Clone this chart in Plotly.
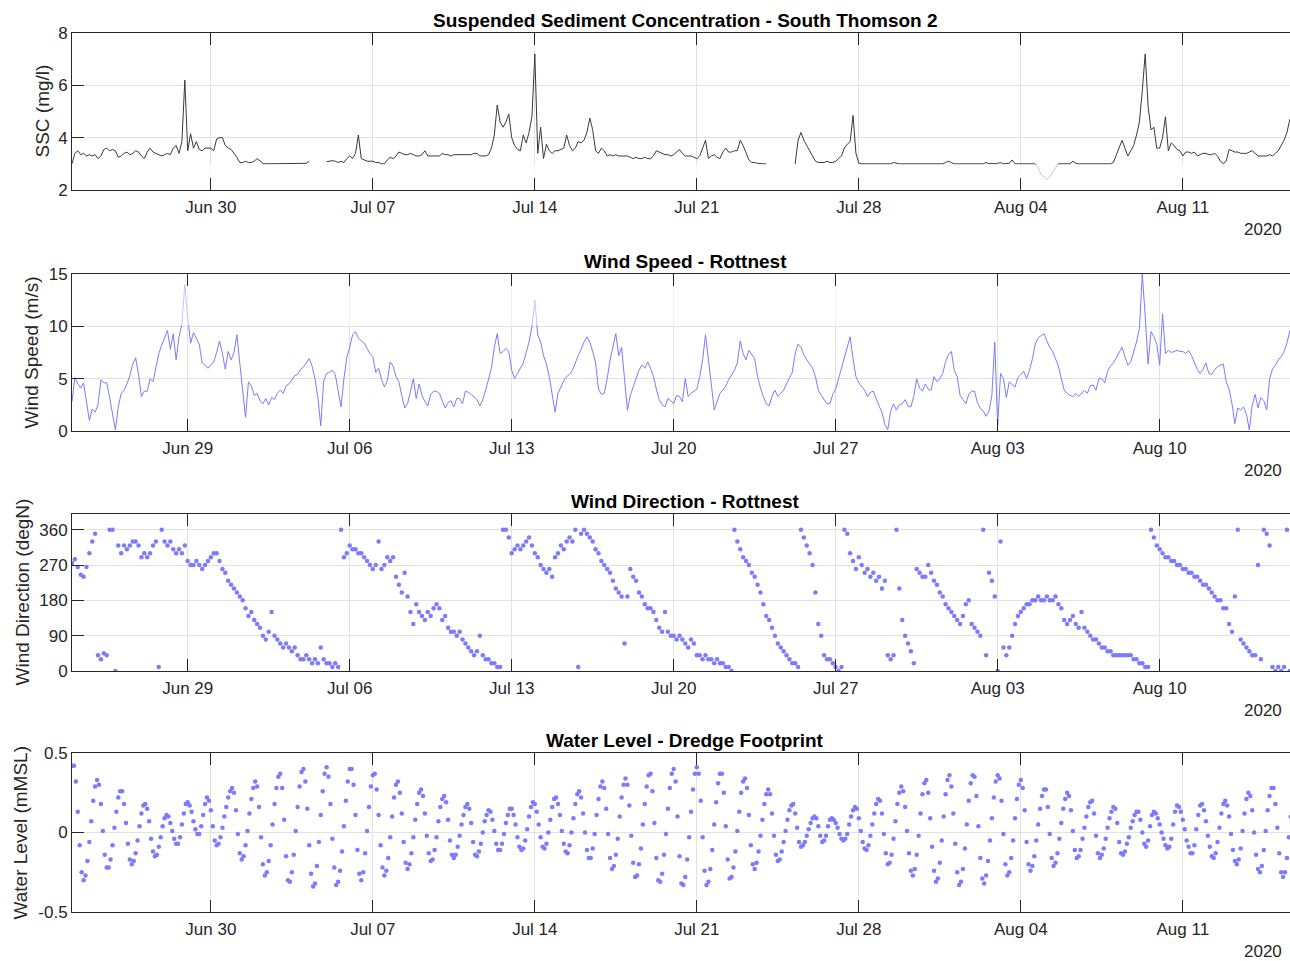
import pandas as pd
import plotly.graph_objects as go

W, H = 1290, 961
START = "2020-06-24 00:00"
X_END = "2020-08-15 15:10"

# ---------------- tick labels ----------------
tide_tick_dates = ["2020-06-30", "2020-07-07", "2020-07-14", "2020-07-21",
                   "2020-07-28", "2020-08-04", "2020-08-11"]
wind_tick_dates = ["2020-06-29", "2020-07-06", "2020-07-13", "2020-07-20",
                   "2020-07-27", "2020-08-03", "2020-08-10"]
ssc_ticks = [2, 4, 6, 8]
ws_ticks = [0, 5, 10, 15]
wd_ticks = [0, 90, 180, 270, 360]
wl_ticks = [-0.5, 0, 0.5]
wl_ticktext = ["-0.5", "0", "0.5"]
year_label = "2020"

titles = ["Suspended Sediment Concentration - South Thomson 2",
          "Wind Speed - Rottnest", "Wind Direction - Rottnest",
          "Water Level - Dredge Footprint"]
ylabels = ["SSC (mg/l)", "Wind Speed (m/s)", "Wind Direction (degN)",
           "Water Level (mMSL)"]

# ---------------- data: 3-hourly from Jun 24 00:00 (one line per day) ----------------
ssc_mgl = [
    3.0, 3.4, 3.5, 3.35, 3.4, 3.3, 3.35, 3.3,
    3.35, 3.2, 3.3, 3.55, 3.6, 3.5, 3.55, 3.5,
    3.25, 3.3, 3.4, 3.45, 3.35, 3.4, 3.5, 3.45,
    3.3, 3.2, 3.45, 3.6, 3.45, 3.4, 3.35, 3.3,
    3.35, 3.4, 3.35, 3.6, 3.7, 3.4, 3.85, 6.2,
    3.5, 4.15, 3.6, 3.85, 3.55, 3.5, 3.6, 3.6,
    3.6, 3.5, 3.95, 4.0, 4.0, 3.7, 3.6, 3.55,
    3.4, 3.25, 3.05, 3.05, 3.1, 3.05, 3.05, 3.1,
    3.2, 3.1, 3.02, 3.0, 3.0, 3.02, 3.0, 3.0,
    3.0, 3.02, 3.0, 3.0, 3.02, 3.0, 3.0, 3.0,
    3.0, 3.02, 3.1, None, None, None, None, None,
    3.08, 3.1, 3.12, 3.1, 3.05, 3.1, 3.05, 3.2,
    3.3, 3.2, 3.4, 4.1, 3.2, 3.15, 3.1, 3.1,
    3.1, 3.05, 3.05, 3.0, 3.0, 3.15, 3.25, 3.2,
    3.3, 3.45, 3.4, 3.35, 3.35, 3.4, 3.35, 3.3,
    3.3, 3.35, 3.5, 3.3, 3.3, 3.3, 3.3, 3.3,
    3.4, 3.35, 3.35, 3.3, 3.35, 3.35, 3.35, 3.35,
    3.35, 3.35, 3.35, 3.4, 3.4, 3.3, 3.3, 3.3,
    3.35, 3.6, 4.1, 5.25, 4.6, 4.4, 4.6, 4.9,
    4.0, 3.7, 3.55, 3.5, 4.1, 3.8, 4.2, 4.8,
    7.2, 3.4, 4.4, 3.2, 3.75, 3.5, 3.4, 3.5,
    3.5, 3.55, 3.6, 4.1, 3.7, 3.5, 3.6, 3.85,
    3.8, 3.9, 4.2, 4.75, 4.3, 3.5, 3.4, 3.6,
    3.5, 3.3, 3.35, 3.3, 3.35, 3.3, 3.3, 3.3,
    3.3, 3.25, 3.2, 3.25, 3.2, 3.2, 3.25, 3.2,
    3.2, 3.3, 3.5, 3.45, 3.4, 3.35, 3.35, 3.3,
    3.35, 3.45, 3.55, 3.4, 3.3, 3.3, 3.3, 3.25,
    3.2, 3.3, 3.6, 3.9, 3.2, 3.3, 3.35, 3.25,
    3.2, 3.45, 3.6, 3.45, 3.45, 3.5, 3.5, 3.9,
    3.7, 3.4, 3.15, 3.05, 3.05, 3.02, 3.0, 3.0,
    3.0, None, None, None, None, None, None, None,
    None, None, 3.0, 3.9, 4.2, 3.9, 3.7, 3.5,
    3.3, 3.1, 3.05, 3.05, 3.05, 3.1, 3.05, 3.05,
    3.1, 3.2, 3.3, 3.6, 3.75, 3.85, 4.85, 3.4,
    3.02, 3.0, 3.0, 3.0, 3.02, 3.0, 3.0, 3.0,
    3.0, 3.0, 3.02, 3.0, 3.05, 3.02, 3.0, 3.0,
    3.0, 3.0, 3.0, 3.02, 3.0, 3.0, 3.0, 3.0,
    3.0, 3.0, 3.0, 3.0, 3.02, 3.0, 3.05, 3.1,
    3.05, 3.0, 3.0, 3.0, 3.0, 3.02, 3.0, 3.0,
    3.0, 3.02, 3.0, 3.0, 3.05, 3.0, 3.02, 3.0,
    3.02, 3.05, 3.0, 3.0, 3.02, 3.15, 3.0, 3.0,
    3.0, 3.0, 3.0, 3.0, 3.0, 3.0, 2.85, 2.6,
    2.5, 2.4, 2.5, 2.7, 2.85, 3.0, 3.0, 3.0,
    3.0, 3.0, 3.1, 3.02, 3.0, 3.0, 3.0, 3.0,
    3.0, 3.02, 3.0, 3.0, 3.0, 3.0, 3.0, 3.0,
    3.05, 3.35, 3.6, 3.9, 3.6, 3.3, 3.5, 3.7,
    4.1, 4.6, 5.8, 7.2, 5.2, 4.3, 4.4, 3.6,
    3.6, 4.0, 4.8, 3.5, 3.8, 3.7, 3.55, 3.5,
    3.3, 3.45, 3.45, 3.4, 3.45, 3.3, 3.35, 3.4,
    3.4, 3.35, 3.35, 3.4, 3.3, 3.1, 3.0, 3.1,
    3.55, 3.5, 3.45, 3.45, 3.4, 3.4, 3.4, 3.45,
    3.5, 3.4, 3.3, 3.3, 3.3, 3.3, 3.35, 3.3,
    3.4, 3.5, 3.7, 3.9, 4.2, 4.7, 4.5, 4.3,
]

wind_speed_ms = [
    2.8, 5.1, 4.5, 4.1, 4.6, 3.0, 1.0, 2.1,
    1.8, 2.5, 4.9, 4.6, 4.6, 3.2, 1.5, 0.1,
    2.3, 3.6, 3.9, 4.5, 5.3, 6.4, 7.0, 5.4,
    3.3, 3.8, 3.8, 5.0, 4.7, 6.2, 7.4, 8.2,
    9.0, 9.6, 7.8, 9.3, 6.8, 9.0, 10.2, 14.0,
    10.8, 8.4, 9.4, 8.8, 8.3, 6.5, 6.3, 6.0,
    6.3, 6.6, 7.5, 8.6, 7.4, 5.9, 7.6, 6.8,
    7.5, 9.2, 6.5, 3.9, 1.3, 4.7, 4.3, 3.4,
    3.6, 2.9, 2.6, 3.1, 2.5, 3.2, 3.0, 3.6,
    3.9, 3.6, 4.3, 4.5, 4.9, 5.3, 5.4, 5.9,
    6.1, 6.5, 6.9, 6.2, 5.0, 3.2, 0.5, 4.8,
    5.5, 5.6, 5.8, 5.4, 4.0, 2.3, 5.0, 7.0,
    8.0, 9.2, 9.5, 8.9, 8.6, 8.4, 7.9, 7.4,
    7.1, 5.6, 6.0, 4.9, 4.2, 4.8, 6.6, 6.2,
    5.2, 4.7, 3.4, 2.2, 2.6, 3.9, 5.0, 3.1,
    4.5, 3.4, 2.8, 2.4, 3.5, 3.8, 3.8, 3.6,
    2.8, 2.2, 2.7, 2.9, 2.3, 3.1, 3.1, 2.6,
    3.8, 3.7, 3.5, 3.2, 3.0, 2.4, 3.0, 3.9,
    5.0, 6.0, 8.0, 9.3, 7.4, 7.6, 7.9, 7.6,
    5.8, 5.0, 5.5, 6.0, 6.5, 7.5, 8.5, 10.0,
    12.5, 9.2, 8.5, 7.2, 6.4, 5.2, 3.6, 1.8,
    3.6, 4.2, 4.8, 5.2, 5.4, 5.8, 6.6, 7.2,
    7.8, 8.5, 9.0, 8.5, 7.6, 6.5, 4.0, 3.5,
    3.6, 5.0, 6.8, 8.2, 9.3, 7.2, 8.0, 5.0,
    2.0, 3.4, 4.3, 5.0, 5.8, 6.3, 6.0, 6.6,
    6.0, 5.2, 4.0, 3.0, 2.5, 2.3, 3.1, 2.9,
    2.6, 3.4, 3.3, 2.8, 5.0, 3.3, 3.6, 3.8,
    4.0, 5.2, 6.8, 9.2, 7.1, 4.5, 2.0, 2.9,
    3.6, 3.9, 4.3, 4.9, 5.3, 5.8, 6.5, 8.6,
    7.4, 6.8, 7.7, 7.3, 6.9, 5.2, 4.1, 3.3,
    2.6, 2.4, 3.3, 3.9, 3.3, 3.6, 3.9, 4.5,
    5.0, 5.6, 7.4, 8.3, 8.0, 7.3, 6.8, 6.4,
    6.0, 5.2, 3.9, 3.4, 3.0, 2.6, 2.6, 3.5,
    4.0, 5.0, 6.2, 7.0, 8.1, 9.0, 6.9, 5.2,
    4.6, 4.3, 3.9, 3.3, 3.7, 3.8, 3.0, 2.4,
    1.8, 0.6, 0.1, 1.9, 2.6, 2.0, 2.5, 2.6,
    3.0, 2.4, 2.3, 3.3, 5.0, 4.1, 3.8, 4.5,
    4.0, 3.9, 5.2, 4.7, 5.0, 5.5, 6.6, 7.3,
    7.6, 5.8, 5.2, 3.4, 3.0, 2.6, 3.5, 3.8,
    3.8, 2.7, 2.2, 1.9, 1.4, 1.9, 3.4, 8.5,
    0.5, 5.5, 5.0, 3.2, 4.7, 4.4, 4.2, 5.1,
    5.4, 5.7, 5.0, 5.8, 6.9, 8.3, 8.9, 9.1,
    9.3, 8.6, 8.0, 7.6, 6.9, 6.2, 5.0, 3.9,
    3.6, 3.4, 3.3, 3.6, 3.3, 3.6, 3.9, 3.6,
    4.3, 4.4, 3.9, 5.0, 5.0, 4.6, 5.7, 6.2,
    6.5, 7.0, 7.5, 8.0, 7.1, 6.3, 6.6, 7.6,
    8.5, 9.8, 15.0, 11.0, 6.4, 9.5, 9.0, 8.3,
    6.3, 11.2, 7.4, 7.7, 7.5, 7.6, 7.7, 7.6,
    7.6, 7.4, 7.7, 7.2, 6.6, 5.9, 5.5, 5.9,
    6.5, 5.5, 5.4, 5.9, 6.1, 6.3, 6.4, 4.7,
    4.0, 2.6, 0.7, 2.2, 2.0, 2.3, 1.6, 0.1,
    2.5, 3.5, 2.2, 3.2, 2.9, 2.0, 5.0, 5.9,
    6.3, 6.8, 7.1, 7.6, 8.4, 9.6, 9.3, 9.0,
]

wind_dir_degN = [
    275, 285, 265, 245, 240, 265, 300, 330,
    350, 40, 30, 45, 40, 360, 360, 0,
    320, 300, 320, 310, 320, 330, 330, 320,
    290, 300, 290, 300, 320, 330, 10, 360,
    330, 320, 330, 310, 300, 310, 300, 320,
    280, 270, 270, 280, 270, 260, 270, 280,
    290, 300, 300, 280, 260, 250, 230, 220,
    210, 200, 190, 180, 160, 140, 150, 130,
    120, 110, 90, 80, 100, 150, 90, 80,
    70, 60, 70, 60, 50, 60, 40, 30,
    30, 40, 30, 20, 30, 20, 60, 30,
    20, 20, 10, 20, 10, 360, 290, 300,
    320, 310, 310, 300, 300, 290, 280, 270,
    260, 270, 330, 260, 270, 290, 280, 290,
    240, 220, 200, 250, 190, 150, 120, 170,
    150, 140, 130, 150, 140, 160, 170, 160,
    130, 140, 110, 100, 100, 90, 100, 80,
    70, 60, 50, 40, 50, 90, 40, 30,
    30, 20, 20, 10, 10, 360, 360, 340,
    300, 310, 320, 310, 320, 330, 340, 320,
    300, 290, 270, 260, 250, 260, 240, 290,
    300, 320, 310, 330, 340, 330, 360, 10,
    350, 360, 350, 340, 330, 310, 300, 280,
    270, 260, 250, 230, 210, 200, 190, 70,
    190, 260, 240, 230, 200, 190, 170, 160,
    160, 150, 130, 110, 100, 150, 100, 90,
    90, 80, 90, 80, 70, 60, 80, 70,
    40, 40, 30, 40, 30, 30, 20, 30,
    20, 20, 10, 10, 0, 360, 330, 310,
    290, 280, 270, 250, 240, 220, 200, 170,
    140, 130, 110, 90, 70, 60, 50, 40,
    30, 20, 20, 10, 360, 340, 320, 300,
    270, 200, 120, 90, 40, 30, 30, 20,
    10, 0, 10, 360, 350, 300, 280, 260,
    290, 270, 250, 260, 240, 250, 230, 240,
    210, 230, 40, 30, 40, 360, 210, 130,
    90, 70, 50, 20, 260, 250, 240, 240,
    270, 250, 230, 220, 200, 190, 170, 160,
    150, 140, 130, 120, 140, 170, 180, 120,
    110, 100, 90, 360, 40, 250, 230, 190,
    0, 330, 60, 40, 60, 90, 120, 140,
    150, 160, 170, 170, 180, 180, 190, 180,
    180, 190, 180, 180, 190, 170, 160, 130,
    120, 130, 140, 120, 110, 150, 110, 100,
    90, 80, 80, 70, 60, 60, 50, 50,
    40, 40, 40, 40, 40, 40, 40, 30,
    30, 20, 20, 10, 10, 360, 340, 320,
    310, 300, 290, 290, 280, 280, 270, 270,
    260, 260, 250, 250, 240, 240, 230, 220,
    220, 210, 200, 190, 180, 180, 160, 160,
    120, 100, 190, 360, 80, 70, 60, 50,
    40, 40, 270, 30, 360, 350, 320, 10,
    0, 10, 0, 10, 360, 0, 10, 0,
]

# ---------------- data: 2-hourly from Jun 24 00:00 (one line per day) ----------------
water_level_m = [
    0.42, 0.42, 0.32, 0.13, -0.08, -0.25, -0.30, -0.27, -0.18, -0.06, 0.07, 0.20,
    0.29, 0.33, 0.30, 0.18, 0.01, -0.14, -0.22, -0.22, -0.17, -0.08, 0.03, 0.13,
    0.22, 0.26, 0.26, 0.18, 0.06, -0.07, -0.17, -0.20, -0.18, -0.13, -0.05, 0.04,
    0.12, 0.17, 0.18, 0.15, 0.07, -0.04, -0.12, -0.15, -0.14, -0.09, -0.03, 0.04,
    0.09, 0.11, 0.10, 0.06, 0.01, -0.04, -0.07, -0.07, -0.03, 0.05, 0.12, 0.18,
    0.19, 0.17, 0.13, 0.07, 0.02, -0.01, -0.01, 0.04, 0.11, 0.18, 0.22, 0.20,
    0.14, 0.04, -0.05, -0.08, -0.07, -0.03, 0.03, 0.10, 0.16, 0.22, 0.26, 0.28,
    0.25, 0.14, -0.01, -0.13, -0.17, -0.15, -0.08, 0.01, 0.12, 0.21, 0.28, 0.32,
    0.29, 0.16, -0.03, -0.20, -0.27, -0.25, -0.18, -0.08, 0.05, 0.18, 0.28, 0.35,
    0.37, 0.28, 0.08, -0.15, -0.30, -0.31, -0.25, -0.14, 0.01, 0.16, 0.29, 0.38,
    0.40, 0.32, 0.15, -0.08, -0.26, -0.34, -0.32, -0.21, -0.06, 0.11, 0.26, 0.37,
    0.41, 0.35, 0.18, -0.04, -0.22, -0.33, -0.31, -0.24, -0.12, 0.04, 0.20, 0.32,
    0.40, 0.40, 0.30, 0.11, -0.11, -0.26, -0.30, -0.25, -0.13, 0.01, 0.16, 0.29,
    0.36, 0.37, 0.27, 0.11, -0.08, -0.22, -0.27, -0.24, -0.16, -0.03, 0.10, 0.22,
    0.30, 0.32, 0.25, 0.12, -0.06, -0.19, -0.23, -0.20, -0.13, -0.03, 0.08, 0.18,
    0.25, 0.27, 0.23, 0.12, -0.02, -0.13, -0.18, -0.17, -0.11, -0.03, 0.07, 0.16,
    0.21, 0.23, 0.19, 0.08, -0.05, -0.14, -0.16, -0.14, -0.09, -0.02, 0.05, 0.11,
    0.16, 0.18, 0.15, 0.06, -0.06, -0.14, -0.15, -0.12, -0.07, 0.00, 0.07, 0.11,
    0.14, 0.13, 0.08, 0.01, -0.07, -0.11, -0.11, -0.07, -0.01, 0.06, 0.11, 0.15,
    0.15, 0.11, 0.05, -0.03, -0.09, -0.11, -0.10, -0.05, 0.02, 0.10, 0.16, 0.19,
    0.18, 0.13, 0.05, -0.03, -0.09, -0.10, -0.07, 0.00, 0.08, 0.16, 0.21, 0.22,
    0.18, 0.11, 0.01, -0.07, -0.12, -0.13, -0.08, 0.00, 0.09, 0.18, 0.24, 0.26,
    0.22, 0.12, 0.00, -0.11, -0.16, -0.16, -0.10, -0.01, 0.11, 0.21, 0.29, 0.32,
    0.28, 0.15, -0.01, -0.16, -0.23, -0.21, -0.14, -0.04, 0.10, 0.22, 0.30, 0.34,
    0.30, 0.17, -0.02, -0.19, -0.28, -0.27, -0.20, -0.10, 0.05, 0.18, 0.29, 0.36,
    0.37, 0.26, 0.06, -0.16, -0.30, -0.31, -0.26, -0.14, -0.01, 0.15, 0.28, 0.37,
    0.40, 0.32, 0.10, -0.15, -0.32, -0.33, -0.28, -0.17, -0.03, 0.13, 0.27, 0.37,
    0.41, 0.37, 0.20, -0.03, -0.24, -0.33, -0.31, -0.23, -0.11, 0.05, 0.19, 0.31,
    0.37, 0.37, 0.25, 0.04, -0.17, -0.29, -0.28, -0.22, -0.12, 0.01, 0.13, 0.25,
    0.32, 0.34, 0.28, 0.11, -0.08, -0.20, -0.23, -0.19, -0.12, -0.02, 0.08, 0.18,
    0.24, 0.27, 0.24, 0.12, -0.02, -0.14, -0.18, -0.17, -0.12, -0.06, 0.01, 0.08,
    0.14, 0.17, 0.18, 0.12, 0.03, -0.06, -0.09, -0.08, -0.06, -0.02, 0.02, 0.06,
    0.09, 0.10, 0.09, 0.04, -0.02, -0.06, -0.05, -0.02, 0.04, 0.08, 0.09, 0.08,
    0.06, 0.03, -0.01, -0.04, -0.05, -0.04, -0.01, 0.05, 0.10, 0.14, 0.16, 0.15,
    0.09, 0.01, -0.06, -0.10, -0.11, -0.08, -0.02, 0.05, 0.12, 0.18, 0.21, 0.20,
    0.12, -0.01, -0.13, -0.20, -0.19, -0.14, -0.04, 0.07, 0.18, 0.25, 0.29, 0.26,
    0.16, 0.01, -0.13, -0.24, -0.27, -0.23, -0.14, -0.02, 0.12, 0.24, 0.31, 0.33,
    0.25, 0.09, -0.09, -0.24, -0.31, -0.29, -0.19, -0.05, 0.10, 0.24, 0.33, 0.36,
    0.29, 0.12, -0.07, -0.25, -0.33, -0.31, -0.23, -0.10, 0.05, 0.20, 0.31, 0.36,
    0.35, 0.23, 0.04, -0.16, -0.29, -0.32, -0.27, -0.18, -0.05, 0.09, 0.22, 0.32,
    0.36, 0.34, 0.20, -0.01, -0.20, -0.27, -0.25, -0.16, -0.05, 0.09, 0.21, 0.30,
    0.33, 0.28, 0.14, -0.06, -0.20, -0.24, -0.21, -0.15, -0.05, 0.05, 0.15, 0.23,
    0.27, 0.27, 0.16, -0.01, -0.16, -0.21, -0.19, -0.13, -0.04, 0.06, 0.15, 0.21,
    0.25, 0.23, 0.14, 0.01, -0.11, -0.16, -0.15, -0.11, -0.04, 0.03, 0.10, 0.16,
    0.19, 0.20, 0.12, -0.02, -0.13, -0.16, -0.14, -0.10, -0.04, 0.03, 0.09, 0.13,
    0.16, 0.15, 0.06, -0.06, -0.13, -0.14, -0.12, -0.07, -0.03, 0.03, 0.07, 0.11,
    0.13, 0.13, 0.08, 0.00, -0.07, -0.09, -0.05, 0.04, 0.11, 0.13, 0.12, 0.09,
    0.05, 0.00, -0.04, -0.08, -0.10, -0.09, -0.04, 0.05, 0.13, 0.17, 0.16, 0.13,
    0.08, 0.02, -0.05, -0.09, -0.13, -0.13, -0.08, 0.02, 0.11, 0.17, 0.18, 0.14,
    0.07, -0.02, -0.09, -0.15, -0.16, -0.13, -0.06, 0.03, 0.12, 0.18, 0.20, 0.17,
    0.10, -0.01, -0.11, -0.18, -0.20, -0.17, -0.10, 0.01, 0.12, 0.21, 0.25, 0.23,
    0.14, 0.00, -0.14, -0.23, -0.25, -0.21, -0.11, 0.01, 0.14, 0.23, 0.28, 0.28,
    0.18, 0.03, -0.13, -0.25, -0.28, -0.25, -0.16, -0.03, 0.10, 0.22, 0.30, 0.33,
]

# ---------------- styling / layout constants ----------------
AX_COLOR = "#262626"
GRID_COLOR = "#e2e2e2"
SSC_COLOR = "#3a3a3a"
BLUE = "#7b7bff"
FONT = "Liberation Sans, Arial, Helvetica, sans-serif"
TICK_SIZE = 17

AX_LEFT = 72
PANEL_TOP = [33, 274, 514, 753]
PANEL_BOTTOM = [190, 431, 671, 912]
YLABEL_X = [42, 31, 22, 20]
TITLE_X = 685
YEAR_X = 1263

# faded areas seen in the source image (light white veil over parts of panels)
SSC_VEIL = (2.0, 2.97)
WS_VEIL = (10.1, 15.0)
WS_VEIL_DATES = ("2020-06-24 12:00", "2020-08-02 12:00")


def py(px):
    return 1 - px / H


t3 = pd.date_range(START, periods=len(ssc_mgl), freq="3h")
t3w = pd.date_range(START, periods=len(wind_speed_ms), freq="3h")
t3d = pd.date_range(START, periods=len(wind_dir_degN), freq="3h")
t2 = pd.date_range(START, periods=len(water_level_m), freq="2h")

fig = go.Figure()

fig.add_trace(go.Scatter(x=t3, y=ssc_mgl, mode="lines", connectgaps=False,
                         line=dict(color=SSC_COLOR, width=1),
                         xaxis="x", yaxis="y", hoverinfo="skip"))
fig.add_trace(go.Scatter(x=[START, X_END, X_END, START],
                         y=[SSC_VEIL[0], SSC_VEIL[0], SSC_VEIL[1], SSC_VEIL[1]],
                         fill="toself", fillcolor="rgba(255,255,255,0.72)",
                         mode="lines", line=dict(width=0),
                         xaxis="x", yaxis="y", hoverinfo="skip"))

fig.add_trace(go.Scatter(x=t3w, y=wind_speed_ms, mode="lines",
                         line=dict(color=BLUE, width=1),
                         xaxis="x2", yaxis="y2", hoverinfo="skip"))
fig.add_trace(go.Scatter(x=[WS_VEIL_DATES[0], WS_VEIL_DATES[1], WS_VEIL_DATES[1], WS_VEIL_DATES[0]],
                         y=[WS_VEIL[0], WS_VEIL[0], WS_VEIL[1], WS_VEIL[1]],
                         fill="toself", fillcolor="rgba(255,255,255,0.55)",
                         mode="lines", line=dict(width=0),
                         xaxis="x2", yaxis="y2", hoverinfo="skip"))

fig.add_trace(go.Scatter(x=t3d, y=wind_dir_degN, mode="markers",
                         marker=dict(color=BLUE, size=4.5, line=dict(width=0)),
                         xaxis="x3", yaxis="y3", hoverinfo="skip"))

fig.add_trace(go.Scatter(x=t2, y=water_level_m, mode="markers",
                         marker=dict(color=BLUE, size=4.5, line=dict(width=0)),
                         xaxis="x4", yaxis="y4", hoverinfo="skip"))

tick_font = dict(family=FONT, size=TICK_SIZE, color=AX_COLOR)
x_tickvals = [tide_tick_dates, wind_tick_dates, wind_tick_dates, tide_tick_dates]
y_specs = [
    dict(range=[2, 8], tickvals=ssc_ticks),
    dict(range=[0, 15], tickvals=ws_ticks),
    dict(range=[0, 400], tickvals=wd_ticks),
    dict(range=[-0.5, 0.5], tickvals=wl_ticks, ticktext=wl_ticktext),
]

layout = dict(
    template="none",
    width=W, height=H, autosize=False,
    margin=dict(l=0, r=0, t=0, b=0, pad=0, autoexpand=False),
    paper_bgcolor="white", plot_bgcolor="white",
    showlegend=False,
    font=dict(family=FONT, color=AX_COLOR),
)

annotations = []
for i in range(4):
    sx = "" if i == 0 else str(i + 1)
    layout["xaxis" + sx] = dict(
        domain=[AX_LEFT / W, 1], anchor="y" + sx, type="date", automargin=False,
        range=[START, X_END], tickvals=x_tickvals[i], tickformat="%b %d",
        ticks="inside", ticklen=12, tickwidth=1, tickcolor=AX_COLOR,
        showline=True, linecolor=AX_COLOR, linewidth=1, mirror="ticks",
        showgrid=True, gridcolor=GRID_COLOR, gridwidth=1, zeroline=False,
        tickfont=tick_font, ticklabelstandoff=2, fixedrange=True,
    )
    layout["yaxis" + sx] = dict(
        domain=[py(PANEL_BOTTOM[i]), py(PANEL_TOP[i])], anchor="x" + sx,
        automargin=False,
        ticks="inside", ticklen=12, tickwidth=1, tickcolor=AX_COLOR,
        showline=True, linecolor=AX_COLOR, linewidth=1, mirror=False,
        showgrid=True, gridcolor=GRID_COLOR, gridwidth=1, zeroline=False,
        tickfont=tick_font, ticklabelstandoff=0, fixedrange=True,
        **y_specs[i],
    )
    annotations.append(dict(
        text="<b>" + titles[i] + "</b>", x=TITLE_X / W, y=py(PANEL_TOP[i] - 13),
        xref="paper", yref="paper", xanchor="center", yanchor="middle",
        showarrow=False, font=dict(family=FONT, size=19, color="#000000")))
    annotations.append(dict(
        text=ylabels[i], x=YLABEL_X[i] / W,
        y=py((PANEL_TOP[i] + PANEL_BOTTOM[i]) / 2),
        xref="paper", yref="paper", xanchor="center", yanchor="middle",
        textangle=-90, showarrow=False,
        font=dict(family=FONT, size=19, color=AX_COLOR)))
    annotations.append(dict(
        text=year_label, x=YEAR_X / W, y=py(PANEL_BOTTOM[i] + 39.5),
        xref="paper", yref="paper", xanchor="center", yanchor="middle",
        showarrow=False, font=dict(family=FONT, size=TICK_SIZE, color=AX_COLOR)))

layout["annotations"] = annotations
fig.update_layout(**layout)

fig.write_html("out.html", config={"displayModeBar": False})
